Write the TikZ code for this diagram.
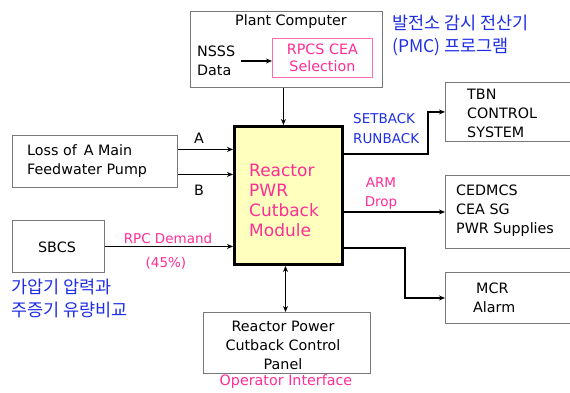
\documentclass[tikz,border=0pt]{standalone}
\usepackage{fontspec}
\setmainfont{DejaVu Sans}
\newfontfamily\kr{Noto Sans CJK KR}
\usetikzlibrary{arrows.meta}
\definecolor{pinktxt}{RGB}{255,45,150}
\definecolor{bluetxt}{RGB}{30,45,230}
\definecolor{modfill}{RGB}{255,255,190}
\definecolor{boxline}{RGB}{120,120,120}
\begin{document}
\begin{tikzpicture}[x=1pt,y=-1pt,
  box/.style={draw=boxline, line width=0.9pt, fill=white, anchor=north west, inner sep=0pt},
  txt/.style={inner sep=0pt, font=\fontsize{14.3}{19}\selectfont, text=black},
  ptxt/.style={inner sep=0pt, font=\fontsize{13.5}{19}\selectfont, text=pinktxt},
  btxt/.style={inner sep=0pt, font=\fontsize{13.5}{20}\selectfont, text=bluetxt},
  ktxt/.style={inner sep=0pt, font=\kr\fontsize{17.5}{23}\selectfont, text=bluetxt},
  arr/.style={line width=1.4pt, -{Stealth[length=6pt,width=5pt]}},
  darr/.style={line width=1.4pt, {Stealth[length=6pt,width=5pt]}-{Stealth[length=6pt,width=5pt]}}
]
\useasboundingbox (0,0) rectangle (570,392);

% boxes
\node[box, minimum width=192pt, minimum height=76pt] (plant) at (190,11) {};
\node[anchor=north west, inner sep=0pt, draw=pinktxt!70, line width=0.8pt, minimum width=100pt, minimum height=39pt] (rpcs) at (272,38) {};
\node[box, draw=black, line width=3pt, fill=modfill, minimum width=108pt, minimum height=138pt] (module) at (233,125) {};
\node[box, minimum width=165pt, minimum height=52pt] (loss) at (12,135) {};
\node[box, minimum width=92pt, minimum height=52pt] (sbcs) at (12,220) {};
\node[box, minimum width=135pt, minimum height=59pt] (tbn) at (445,82) {};
\node[box, minimum width=135pt, minimum height=73pt] (cedm) at (445,175) {};
\node[box, minimum width=135pt, minimum height=51pt] (mcr) at (445,272) {};
\node[box, minimum width=167pt, minimum height=61pt] (panel) at (203,312) {};

% texts in boxes
\node[txt] (plantt) at (291,22) {Plant Computer};
\node[txt, anchor=west] (nsss) at (197,51) {NSSS};
\node[txt, anchor=west] (data) at (197,70) {Data};
\node[ptxt, font=\fontsize{14.3}{17}\selectfont, align=center] (rpcst) at (rpcs.center) {RPCS CEA\\Selection};
\node[inner sep=0pt, anchor=west, align=left, text=pinktxt, font=\fontsize{17}{20}\selectfont] (modt) at (249,200) {Reactor\\PWR\\Cutback\\Module};
\node[txt, anchor=west, align=left] (losst) at (27,161) {Loss of\, A Main\\Feedwater Pump};
\node[txt] (sbcst) at (57,247) {SBCS};
\node[txt, anchor=west, align=left] (tbnt) at (467,113) {TBN\\CONTROL\\SYSTEM};
\node[txt, anchor=west, align=left] (cedmt) at (456,211) {CEDMCS\\CEA SG\\PWR Supplies};
\node[txt, anchor=west, align=left] (mcrt) at (473,298) {\hspace*{3pt}MCR\\Alarm};
\node[txt, align=center] (panelt) at (283,345) {Reactor Power\\Cutback Control\\Panel};

% labels
\node[txt] (la) at (199,138) {A};
\node[txt] (lb) at (199,190) {B};
\node[ptxt] (rpcd) at (168,238) {RPC Demand};
\node[ptxt] (pct) at (166,263) {(45\%)};
\node[btxt, anchor=west, align=left] (sbrb) at (353,129) {SETBACK\\RUNBACK};
\node[ptxt, align=center] (arm) at (381,193) {ARM\\Drop};
\node[ptxt, font=\fontsize{14.3}{19}\selectfont] (opi) at (286,382) {Operator Interface};
\node[ktxt, anchor=west, align=left] (k1) at (392,35) {발전소 감시 전산기\\(PMC) 프로그램};
\node[ktxt, anchor=west, align=left] (k2) at (11,298) {가압기 압력과\\주증기 유량비교};

% connectors
\coordinate (nsssend) at (241,61);
\draw[arr] (nsssend) -- (nsssend -| rpcs.west);
\draw[arr] ([xshift=-3pt]plant.south) -- ([xshift=-3pt]plant.south |- module.north);
\draw[arr] ([yshift=12pt]loss.east) -- ([yshift=12pt]loss.east -| module.west);
\draw[arr] ([yshift=-13pt]loss.east) -- ([yshift=-13pt]loss.east -| module.west);
\draw[arr] (sbcs.east) -- (sbcs.east -| module.west);
\coordinate (sbk) at (428,154);
\draw[arr] (sbk -| module.east) -- (sbk) |- (tbn.west);
\draw[arr] (cedm.west -| module.east) -- (cedm.west);
\coordinate (mcrk) at (405,248);
\draw[arr] (mcrk -| module.east) -- (mcrk) |- (mcr.west);
\draw[darr] ([xshift=-3pt]module.south) -- ([xshift=-3pt]module.south |- panel.north);
\end{tikzpicture}
\end{document}
